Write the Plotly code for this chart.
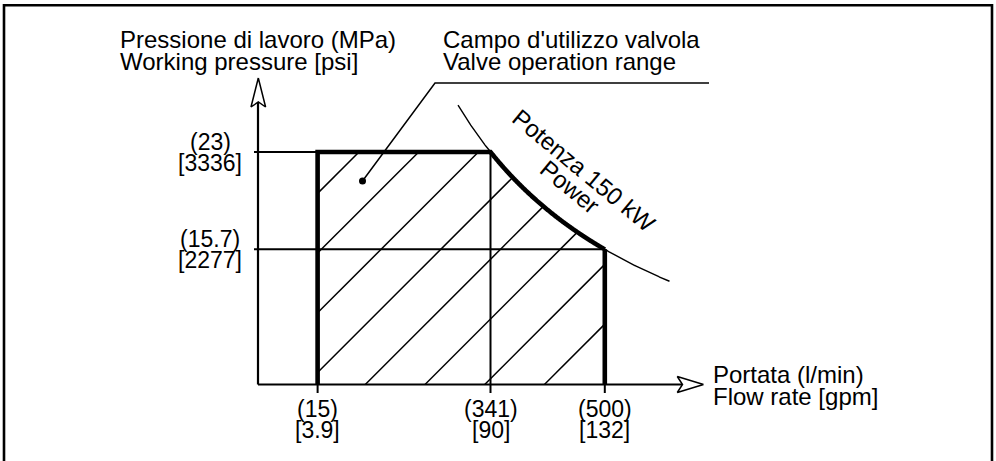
import numpy as np
import plotly.graph_objects as go

# ---------------- data ----------------
FLOW_LPM = [15, 341, 500]             # flow rate, l/min
FLOW_GPM = ["3.9", "90", "132"]       # flow rate, gpm
PRESSURE_MPA = [23, 15.7]             # working pressure, MPa
PRESSURE_PSI = ["3336", "2277"]       # working pressure, psi
POWER_TEXT = "Potenza 150 kW"
POWER_TEXT_EN = "Power"
# The original drawing is schematic: the 15 l/min limit is drawn away from the axis
FLOW_DRAWN = [100.5, 341, 500]
# power-curve extent drawn (l/min)
CURVE_RANGE = [295.8, 590]

# ---------------- drawing scale ----------------
W, H = 996, 461
PX_PER_LPM = 114.3 / 159.0
PX_PER_MPA = 97.2 / 7.3
REF_Q, REF_QPX = FLOW_LPM[1], 490.5
REF_P, REF_PPY = PRESSURE_MPA[0], 152.0


def qx(px):
    return REF_Q + (px - REF_QPX) / PX_PER_LPM


def pp(py):
    return REF_P + (REF_PPY - py) / PX_PER_MPA


def to_px(q):
    return REF_QPX + (q - REF_Q) * PX_PER_LPM


def to_py(p):
    return REF_PPY + (REF_P - p) * PX_PER_MPA


K = PRESSURE_MPA[0] * FLOW_LPM[1]   # constant power hyperbola  p*q = K
AX_PX, AX_PY = 258.0, 384.5           # axis corner (pixels)
Q0, P0 = qx(AX_PX), pp(AX_PY)
P_TICK = pp(393)                      # bottom of x ticks
Q_TICK = qx(254)                      # left of y ticks

FONT = "Liberation Sans, Arial, Helvetica, sans-serif"
BLACK = "#000000"

fig = go.Figure()


def line(xs, ys, width, color=BLACK):
    fig.add_trace(go.Scatter(x=xs, y=ys, mode="lines",
                             line=dict(color=color, width=width),
                             hoverinfo="skip", showlegend=False))


# ---------------- hatching ----------------
q_left, q_right = FLOW_DRAWN[0], FLOW_DRAWN[2]


def top_py(px):
    q = qx(px)
    p = min(PRESSURE_MPA[0], K / q)
    return to_py(p)


left_px, right_px = to_px(q_left), to_px(q_right)
hx, hy = [], []
for c in 511 + 59.7 * np.arange(8):
    xs = max(left_px, c - AX_PY)
    ys = c - xs
    if ys < top_py(xs):
        continue

    def g(x):
        return (c - x) - top_py(x)

    if g(right_px) >= 0:
        xe = right_px
    else:
        lo, hi = xs, right_px
        for _ in range(60):
            mid = (lo + hi) / 2
            if g(mid) >= 0:
                lo = mid
            else:
                hi = mid
        xe = lo
    ye = c - xe
    hx += [qx(xs), qx(xe), None]
    hy += [pp(ys), pp(ye), None]
line(hx, hy, 1.5)

# ---------------- reference lines (thin) ----------------
line([Q_TICK, FLOW_DRAWN[1]], [PRESSURE_MPA[0]] * 2, 2)
line([Q_TICK, FLOW_DRAWN[2]], [PRESSURE_MPA[1]] * 2, 2)
line([FLOW_DRAWN[0]] * 2, [P_TICK, P0], 2)
line([FLOW_DRAWN[1]] * 2, [P_TICK, PRESSURE_MPA[0]], 2)
line([FLOW_DRAWN[2]] * 2, [P_TICK, P0], 2)

# thin power curve
qc = np.linspace(CURVE_RANGE[0], CURVE_RANGE[1], 300)
line(qc, K / qc, 1.4)

# ---------------- operating range boundary (thick) ----------------
qb = np.linspace(FLOW_LPM[1], FLOW_LPM[2], 200)
bx = [FLOW_DRAWN[0], FLOW_DRAWN[0]] + list(qb) + [FLOW_DRAWN[2], FLOW_DRAWN[2]]
by = [P0, PRESSURE_MPA[0]] + list(K / qb) + [PRESSURE_MPA[1], P0]
fig.add_trace(go.Scatter(x=bx, y=by, mode="lines",
                         line=dict(color=BLACK, width=4.6, simplify=False),
                         hoverinfo="skip", showlegend=False))

# ---------------- axes with open arrowheads ----------------
line([Q0, Q0], [P0, pp(102)], 2.2)
line([Q0, qx(682)], [P0, P0], 2.2)
ya = [(258.3, 78), (265.6, 107), (258.3, 102), (251.0, 107), (258.3, 78)]
xa = [(703.5, 384.5), (677.3, 392.5), (682.5, 384.5), (677.3, 376.5), (703.5, 384.5)]
for pts in (ya, xa):
    fig.add_trace(go.Scatter(x=[qx(a) for a, b in pts], y=[pp(b) for a, b in pts],
                             mode="lines", fill="toself", fillcolor="white",
                             line=dict(color=BLACK, width=1.5),
                             hoverinfo="skip", showlegend=False))

# ---------------- leader line to label ----------------
line([qx(362.5), qx(435), qx(709)], [pp(181), pp(83), pp(83)], 1.5)
fig.add_trace(go.Scatter(x=[qx(362.5)], y=[pp(181)], mode="markers",
                         marker=dict(color=BLACK, size=7),
                         hoverinfo="skip", showlegend=False))

# ---------------- outer frame ----------------
fig.add_shape(type="rect", xref="x", yref="y",
              x0=qx(4), x1=qx(992), y0=pp(5.3), y1=pp(480),
              line=dict(color=BLACK, width=2.6), fillcolor="rgba(0,0,0,0)")

# ---------------- texts ----------------


def text(s, px, baseline, size=24, xanchor="left"):
    fig.add_annotation(x=qx(px), y=pp(baseline - 0.35 * size), text=s,
                       showarrow=False, xanchor=xanchor, yanchor="middle",
                       font=dict(family=FONT, size=size, color=BLACK),
                       borderpad=0)


text("Pressione di lavoro (MPa)", 119, 48)
text("Working pressure [psi]", 119, 70)
text("Campo d'utilizzo valvola", 442, 48)
text("Valve operation range", 442, 70)
text("Portata (l/min)", 712, 383)
text("Flow rate [gpm]", 712, 405)

TICK_SIZE = 23
for p, psi in zip(PRESSURE_MPA, PRESSURE_PSI):
    for s, dy in ((f"({p:g})", 10.5), (f"[{psi}]", -11)):
        fig.add_annotation(x=qx(210), y=p, yshift=dy, text=s, showarrow=False,
                           xanchor="center", yanchor="middle", borderpad=0,
                           font=dict(family=FONT, size=TICK_SIZE, color=BLACK))

for qd, q, g in zip(FLOW_DRAWN, FLOW_LPM, FLOW_GPM):
    for s, dy in ((f"({q})", -24.5), (f"[{g}]", -45.5)):
        fig.add_annotation(x=qd, y=P0, yshift=dy, text=s, showarrow=False,
                           xanchor="center", yanchor="middle", borderpad=0,
                           font=dict(family=FONT, size=TICK_SIZE, color=BLACK))

for s, cx, cy in ((POWER_TEXT, 584, 170), (POWER_TEXT_EN, 569.5, 186.5)):
    fig.add_annotation(x=qx(cx), y=pp(cy), text=s, showarrow=False,
                       textangle=39.6, xanchor="center", yanchor="middle",
                       borderpad=0,
                       font=dict(family=FONT, size=24, color=BLACK))

fig.update_layout(
    width=W, height=H, autosize=False,
    margin=dict(l=0, r=0, t=0, b=0, pad=0),
    paper_bgcolor="white", plot_bgcolor="white",
    xaxis=dict(range=[qx(0), qx(W)], visible=False, showgrid=False,
               zeroline=False, fixedrange=True),
    yaxis=dict(range=[pp(H), pp(0)], visible=False, showgrid=False,
               zeroline=False, fixedrange=True),
    showlegend=False,
)

fig.write_html("out.html",
               config={"displayModeBar": False},
               post_script="document.body.style.margin='0';"
                           "document.body.style.overflow='hidden';")
